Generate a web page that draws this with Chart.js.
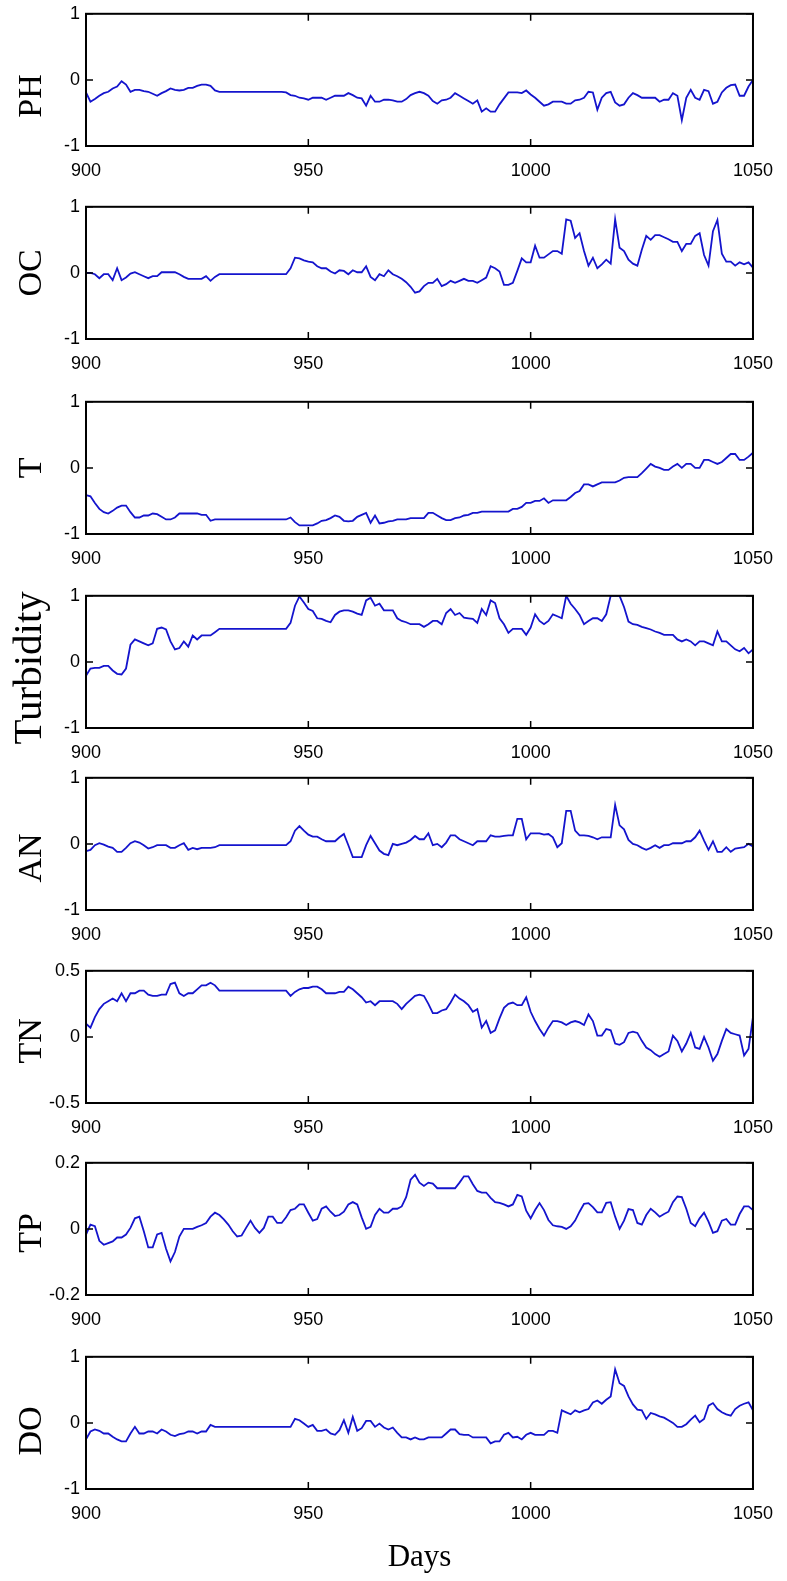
<!DOCTYPE html>
<html>
<head>
<meta charset="utf-8">
<script src="https://cdn.jsdelivr.net/npm/chart.js@4.4.0/dist/chart.umd.min.js"></script>
<style>
  body { margin: 0; background: #fff; }
  #page { position: relative; width: 787px; height: 1581px; overflow: hidden; background: #fff; }
  #page canvas { position: absolute; left: 0; }
</style>
</head>
<body>
<div id="page"></div>
<script>
// day index: value i belongs to day startDay + i
const startDay = 900;
const endDay = 1050;
const xTicks = [900, 950, 1000, 1050];

const ticksUnit = [-1, 0, 1];
const ticksTN = [-0.5, 0, 0.5];
const ticksTP = [-0.2, 0, 0.2];

const ph = [
  -0.19,-0.33,-0.29,-0.24,-0.2,-0.18,-0.13,-0.1,-0.02,-0.07,
  -0.18,-0.15,-0.15,-0.17,-0.18,-0.21,-0.24,-0.2,-0.17,-0.13,
  -0.15,-0.16,-0.15,-0.12,-0.12,-0.09,-0.07,-0.07,-0.09,-0.16,
  -0.18,-0.18,-0.18,-0.18,-0.18,-0.18,-0.18,-0.18,-0.18,-0.18,
  -0.18,-0.18,-0.18,-0.18,-0.18,-0.19,-0.23,-0.24,-0.27,-0.28,
  -0.3,-0.27,-0.27,-0.27,-0.3,-0.27,-0.24,-0.24,-0.24,-0.2,
  -0.23,-0.27,-0.28,-0.39,-0.24,-0.33,-0.33,-0.3,-0.3,-0.31,
  -0.33,-0.33,-0.29,-0.23,-0.2,-0.18,-0.2,-0.24,-0.32,-0.36,
  -0.31,-0.3,-0.27,-0.2,-0.24,-0.28,-0.32,-0.36,-0.31,-0.48,
  -0.43,-0.48,-0.48,-0.37,-0.28,-0.19,-0.19,-0.19,-0.2,-0.16,
  -0.22,-0.27,-0.33,-0.39,-0.37,-0.33,-0.33,-0.33,-0.36,-0.36,
  -0.31,-0.3,-0.27,-0.18,-0.19,-0.45,-0.27,-0.2,-0.18,-0.34,
  -0.39,-0.37,-0.27,-0.2,-0.23,-0.27,-0.27,-0.27,-0.27,-0.33,
  -0.3,-0.3,-0.2,-0.24,-0.61,-0.27,-0.15,-0.27,-0.3,-0.15,
  -0.17,-0.36,-0.33,-0.19,-0.12,-0.08,-0.07,-0.24,-0.24,-0.1,
  0
];

const oc = [
  0,0,-0.02,-0.08,-0.02,-0.02,-0.11,0.07,-0.11,-0.07,
  -0.01,0.01,-0.02,-0.05,-0.08,-0.05,-0.05,0.01,0.01,0.01,
  0.01,-0.02,-0.06,-0.09,-0.09,-0.09,-0.09,-0.05,-0.12,-0.06,
  -0.02,-0.02,-0.02,-0.02,-0.02,-0.02,-0.02,-0.02,-0.02,-0.02,
  -0.02,-0.02,-0.02,-0.02,-0.02,-0.02,0.07,0.23,0.22,0.19,
  0.17,0.16,0.1,0.07,0.07,0.02,-0.01,0.04,0.03,-0.02,
  0.04,0.01,0.01,0.1,-0.06,-0.11,-0.02,-0.05,0.04,-0.02,
  -0.05,-0.09,-0.14,-0.21,-0.3,-0.28,-0.2,-0.15,-0.15,-0.09,
  -0.2,-0.17,-0.12,-0.15,-0.12,-0.09,-0.12,-0.12,-0.15,-0.11,
  -0.07,0.1,0.07,0.02,-0.18,-0.18,-0.15,0.03,0.22,0.16,
  0.16,0.41,0.23,0.23,0.28,0.33,0.33,0.29,0.81,0.79,
  0.53,0.6,0.33,0.11,0.23,0.07,0.13,0.2,0.14,0.81,
  0.38,0.33,0.2,0.14,0.11,0.35,0.56,0.5,0.57,0.57,
  0.54,0.51,0.47,0.47,0.33,0.44,0.44,0.56,0.6,0.27,
  0.11,0.63,0.8,0.29,0.17,0.17,0.11,0.16,0.13,0.16,
  0.08
];

const temp = [
  -0.41,-0.43,-0.53,-0.62,-0.67,-0.69,-0.65,-0.6,-0.57,-0.57,
  -0.67,-0.75,-0.75,-0.72,-0.72,-0.69,-0.7,-0.74,-0.78,-0.78,
  -0.75,-0.69,-0.69,-0.69,-0.69,-0.69,-0.71,-0.71,-0.8,-0.78,
  -0.78,-0.78,-0.78,-0.78,-0.78,-0.78,-0.78,-0.78,-0.78,-0.78,
  -0.78,-0.78,-0.78,-0.78,-0.78,-0.78,-0.75,-0.82,-0.87,-0.87,
  -0.87,-0.87,-0.84,-0.8,-0.79,-0.76,-0.72,-0.74,-0.8,-0.81,
  -0.8,-0.74,-0.71,-0.68,-0.83,-0.72,-0.84,-0.83,-0.81,-0.8,
  -0.78,-0.78,-0.78,-0.76,-0.76,-0.76,-0.76,-0.68,-0.68,-0.72,
  -0.76,-0.79,-0.79,-0.76,-0.75,-0.72,-0.71,-0.68,-0.68,-0.66,
  -0.66,-0.66,-0.66,-0.66,-0.66,-0.66,-0.62,-0.62,-0.59,-0.53,
  -0.53,-0.5,-0.5,-0.46,-0.53,-0.49,-0.49,-0.49,-0.49,-0.44,
  -0.38,-0.35,-0.25,-0.25,-0.28,-0.25,-0.22,-0.22,-0.22,-0.22,
  -0.19,-0.15,-0.14,-0.14,-0.14,-0.08,-0.01,0.06,0.02,0,
  -0.03,-0.03,0.02,0.06,0,0.06,0.06,0,0,0.12,
  0.12,0.09,0.06,0.09,0.15,0.21,0.21,0.12,0.12,0.17,
  0.23
];

const turbidity = [
  -0.21,-0.1,-0.09,-0.09,-0.06,-0.06,-0.13,-0.18,-0.19,-0.1,
  0.26,0.34,0.31,0.28,0.25,0.28,0.5,0.52,0.49,0.31,
  0.19,0.21,0.31,0.23,0.4,0.34,0.4,0.4,0.4,0.45,
  0.5,0.5,0.5,0.5,0.5,0.5,0.5,0.5,0.5,0.5,
  0.5,0.5,0.5,0.5,0.5,0.5,0.59,0.85,0.99,0.9,
  0.8,0.77,0.66,0.65,0.62,0.6,0.71,0.76,0.78,0.78,
  0.76,0.73,0.71,0.93,0.97,0.85,0.88,0.78,0.78,0.78,
  0.66,0.62,0.6,0.57,0.57,0.57,0.53,0.57,0.62,0.62,
  0.57,0.74,0.8,0.71,0.74,0.67,0.66,0.65,0.59,0.8,
  0.71,0.93,0.89,0.66,0.57,0.44,0.5,0.5,0.5,0.41,
  0.52,0.72,0.62,0.57,0.62,0.72,0.69,0.66,1,0.88,
  0.8,0.71,0.57,0.62,0.66,0.66,0.62,0.72,1,1,
  1,0.83,0.61,0.57,0.56,0.53,0.51,0.49,0.46,0.44,
  0.41,0.41,0.41,0.34,0.31,0.34,0.31,0.25,0.31,0.31,
  0.28,0.25,0.46,0.31,0.31,0.25,0.19,0.16,0.21,0.13,
  0.19
];

const an = [
  -0.11,-0.09,-0.02,0.01,-0.01,-0.04,-0.06,-0.12,-0.12,-0.06,
  0.01,0.04,0.02,-0.02,-0.07,-0.05,-0.02,-0.02,-0.02,-0.06,
  -0.06,-0.02,0.01,-0.09,-0.06,-0.08,-0.06,-0.06,-0.06,-0.05,
  -0.02,-0.02,-0.02,-0.02,-0.02,-0.02,-0.02,-0.02,-0.02,-0.02,
  -0.02,-0.02,-0.02,-0.02,-0.02,-0.02,0.04,0.2,0.27,0.2,
  0.14,0.11,0.11,0.07,0.04,0.04,0.04,0.1,0.15,-0.02,
  -0.2,-0.2,-0.2,-0.02,0.12,0.01,-0.1,-0.15,-0.17,0,
  -0.02,0,0.02,0.06,0.12,0.07,0.07,0.16,-0.02,0,
  -0.05,0.02,0.13,0.13,0.07,0.04,0.01,-0.02,0.04,0.04,
  0.04,0.13,0.11,0.11,0.12,0.13,0.13,0.38,0.38,0.07,
  0.16,0.16,0.16,0.14,0.15,0.1,-0.05,0.01,0.5,0.5,
  0.2,0.13,0.13,0.12,0.1,0.07,0.1,0.1,0.1,0.59,
  0.28,0.22,0.06,0,-0.02,-0.06,-0.09,-0.06,-0.02,-0.06,
  -0.02,-0.02,0.01,0.01,0.01,0.04,0.04,0.1,0.2,0.05,
  -0.09,0.04,-0.12,-0.12,-0.05,-0.12,-0.07,-0.06,-0.05,0,
  -0.04
];

const tn = [
  0.10,0.07,0.15,0.21,0.25,0.27,0.29,0.27,0.33,0.27,
  0.33,0.33,0.35,0.35,0.32,0.31,0.31,0.32,0.32,0.40,
  0.41,0.33,0.31,0.33,0.33,0.36,0.39,0.39,0.41,0.39,
  0.35,0.35,0.35,0.35,0.35,0.35,0.35,0.35,0.35,0.35,
  0.35,0.35,0.35,0.35,0.35,0.35,0.31,0.34,0.36,0.37,
  0.37,0.38,0.38,0.36,0.33,0.33,0.33,0.34,0.34,0.38,
  0.36,0.33,0.30,0.26,0.27,0.24,0.27,0.27,0.27,0.27,
  0.25,0.21,0.25,0.28,0.31,0.32,0.31,0.25,0.18,0.18,
  0.20,0.21,0.26,0.32,0.29,0.27,0.24,0.19,0.21,0.07,
  0.12,0.03,0.05,0.14,0.22,0.25,0.26,0.24,0.24,0.30,
  0.19,0.12,0.06,0.01,0.07,0.12,0.12,0.11,0.09,0.11,
  0.12,0.11,0.09,0.17,0.12,0.01,0.01,0.06,0.05,-0.05,
  -0.06,-0.04,0.03,0.04,0.03,-0.03,-0.08,-0.10,-0.13,-0.15,
  -0.13,-0.11,0.01,-0.03,-0.11,-0.05,0.03,-0.08,-0.09,0.00,
  -0.08,-0.18,-0.13,-0.03,0.06,0.03,0.02,0.01,-0.14,-0.09,
  0.15
];

const tp = [
  -0.017,0.013,0.008,-0.036,-0.048,-0.043,-0.038,-0.026,-0.026,-0.017,
  0.003,0.032,0.037,-0.007,-0.056,-0.056,-0.017,-0.012,-0.06,-0.098,
  -0.07,-0.023,0,0,0,0.006,0.011,0.018,0.037,0.049,
  0.042,0.029,0.013,-0.007,-0.023,-0.02,0.003,0.025,0.003,-0.012,
  0.003,0.037,0.037,0.018,0.018,0.035,0.057,0.061,0.074,0.074,
  0.049,0.025,0.03,0.061,0.068,0.052,0.039,0.042,0.052,0.074,
  0.081,0.074,0.035,0,0.006,0.042,0.061,0.049,0.049,0.061,
  0.061,0.068,0.096,0.149,0.164,0.14,0.13,0.14,0.137,0.123,
  0.123,0.123,0.123,0.123,0.14,0.159,0.159,0.135,0.115,0.11,
  0.11,0.094,0.081,0.079,0.074,0.068,0.074,0.103,0.098,0.055,
  0.032,0.057,0.078,0.057,0.027,0.011,0.008,0.006,0,0.008,
  0.025,0.052,0.076,0.078,0.066,0.05,0.05,0.079,0.081,0.037,
  0,0.025,0.06,0.057,0.018,0.013,0.042,0.061,0.05,0.037,
  0.045,0.052,0.081,0.098,0.096,0.061,0.018,0.008,0.032,0.049,
  0.022,-0.012,-0.007,0.025,0.03,0.013,0.013,0.045,0.068,0.068,
  0.057
];

const dox = [
  -0.25,-0.13,-0.1,-0.12,-0.16,-0.16,-0.21,-0.25,-0.28,-0.28,
  -0.16,-0.06,-0.16,-0.16,-0.13,-0.13,-0.16,-0.1,-0.13,-0.18,
  -0.2,-0.17,-0.16,-0.13,-0.13,-0.16,-0.13,-0.13,-0.03,-0.06,
  -0.06,-0.06,-0.06,-0.06,-0.06,-0.06,-0.06,-0.06,-0.06,-0.06,
  -0.06,-0.06,-0.06,-0.06,-0.06,-0.06,-0.06,0.06,0.04,-0.01,
  -0.06,-0.03,-0.12,-0.12,-0.1,-0.16,-0.18,-0.11,0.04,-0.15,
  0.09,-0.12,-0.08,0.03,0.03,-0.06,-0.01,-0.07,-0.1,-0.07,
  -0.15,-0.22,-0.22,-0.25,-0.22,-0.25,-0.25,-0.22,-0.22,-0.22,
  -0.22,-0.16,-0.1,-0.1,-0.17,-0.18,-0.18,-0.22,-0.22,-0.22,
  -0.22,-0.31,-0.28,-0.28,-0.18,-0.15,-0.22,-0.21,-0.25,-0.18,
  -0.15,-0.18,-0.18,-0.18,-0.12,-0.12,-0.15,0.19,0.16,0.13,
  0.19,0.16,0.19,0.21,0.31,0.34,0.29,0.35,0.4,0.81,
  0.6,0.56,0.4,0.28,0.2,0.19,0.06,0.15,0.13,0.1,
  0.08,0.04,0,-0.06,-0.06,-0.02,0.05,0.11,0.01,0.06,
  0.26,0.3,0.21,0.16,0.13,0.11,0.21,0.26,0.29,0.31,
  0.19
];

const panels = [
  { name: 'PH', values: ph, ticks: ticksUnit, top: 9, titleDy: 16 },
  { name: 'OC', values: oc, ticks: ticksUnit, top: 202 },
  { name: 'T', values: temp, ticks: ticksUnit, top: 397 },
  { name: 'Turbidity', values: turbidity, ticks: ticksUnit, top: 591, titleSize: 41, titleX: 30, titleDy: 6 },
  { name: 'AN', values: an, ticks: ticksUnit, top: 773, titleDy: 14 },
  { name: 'TN', values: tn, ticks: ticksTN, top: 966, titleDy: 4 },
  { name: 'TP', values: tp, ticks: ticksTP, top: 1158, titleDy: 4 },
  { name: 'DO', values: dox, ticks: ticksUnit, top: 1352, titleDy: 8, xTitle: 'Days' }
];

const plotH = 137;
const padTop = 12;
const lineColor = 'rgb(20,20,205)';
const sans = "'Liberation Sans', Arial, sans-serif";
const serif = "'Liberation Serif', 'Times New Roman', serif";

// box round the plot and short inward ticks on all four sides
const frameTicks = {
  id: 'frameTicks',
  afterDraw(chart) {
    const { ctx, chartArea: a, scales: { x, y } } = chart;
    const len = 7;
    ctx.save();
    ctx.strokeStyle = '#000';
    ctx.lineWidth = 1.5;
    ctx.beginPath();
    x.ticks.forEach(t => {
      const px = x.getPixelForValue(t.value);
      ctx.moveTo(px, a.bottom); ctx.lineTo(px, a.bottom - len);
      ctx.moveTo(px, a.top); ctx.lineTo(px, a.top + len);
    });
    y.ticks.forEach(t => {
      const py = y.getPixelForValue(t.value);
      ctx.moveTo(a.left, py); ctx.lineTo(a.left + len, py);
      ctx.moveTo(a.right, py); ctx.lineTo(a.right - len, py);
    });
    ctx.stroke();
    ctx.lineWidth = 2;
    ctx.strokeRect(a.left, a.top, a.right - a.left, a.bottom - a.top);
    ctx.restore();
  }
};

// rotated variable name left of each plot (not squeezed to the axis height)
const sideTitle = {
  id: 'sideTitle',
  afterDraw(chart, args, opts) {
    const { ctx, chartArea: a } = chart;
    ctx.save();
    ctx.translate(opts.x, (a.top + a.bottom) / 2 + opts.dy);
    ctx.rotate(-Math.PI / 2);
    ctx.font = opts.size + 'px ' + serif;
    ctx.fillStyle = '#000';
    ctx.textAlign = 'center';
    ctx.textBaseline = 'middle';
    ctx.fillText(opts.text, 0, 0);
    ctx.restore();
  }
};

const page = document.getElementById('page');

panels.forEach(p => {
  const bottomH = p.xTitle ? 91 : 38;
  const h = padTop + plotH + bottomH;
  const canvas = document.createElement('canvas');
  canvas.width = 787;
  canvas.height = h;
  canvas.style.top = (p.top - padTop) + 'px';
  canvas.style.width = '787px';
  canvas.style.height = h + 'px';
  page.appendChild(canvas);

  new Chart(canvas.getContext('2d'), {
    type: 'line',
    data: {
      datasets: [{
        data: p.values.map((v, i) => ({ x: startDay + i, y: v })),
        borderColor: lineColor,
        borderWidth: 1.8,
        pointRadius: 0,
        tension: 0,
        fill: false
      }]
    },
    options: {
      responsive: false,
      animation: false,
      devicePixelRatio: 1,
      layout: { padding: { top: padTop, right: 23, left: 0, bottom: 0 } },
      plugins: {
        legend: { display: false },
        tooltip: { enabled: false },
        sideTitle: { text: p.name, size: p.titleSize || 34, x: p.titleX || 32, dy: p.titleDy || 0 }
      },
      scales: {
        x: {
          type: 'linear',
          min: startDay,
          max: endDay,
          grid: { display: false, drawTicks: false },
          border: { display: false },
          afterBuildTicks: s => { s.ticks = xTicks.map(v => ({ value: v })); },
          afterFit: s => { s.height = bottomH; },
          ticks: {
            autoSkip: false,
            maxRotation: 0,
            padding: 14,
            color: '#000',
            font: { family: sans, size: 18 },
            callback: v => String(v)
          },
          title: {
            display: !!p.xTitle,
            text: p.xTitle || '',
            color: '#000',
            font: { family: serif, size: 31 },
            padding: { top: 0, bottom: 4 }
          }
        },
        y: {
          min: p.ticks[0],
          max: p.ticks[p.ticks.length - 1],
          grid: { display: false, drawTicks: false },
          border: { display: false },
          afterBuildTicks: s => { s.ticks = p.ticks.map(v => ({ value: v })); },
          afterFit: s => { s.width = 86; },
          ticks: {
            padding: 6,
            color: '#000',
            font: { family: sans, size: 18 },
            callback: v => String(v)
          }
        }
      }
    },
    plugins: [frameTicks, sideTitle]
  });
});
</script>
</body>
</html>
